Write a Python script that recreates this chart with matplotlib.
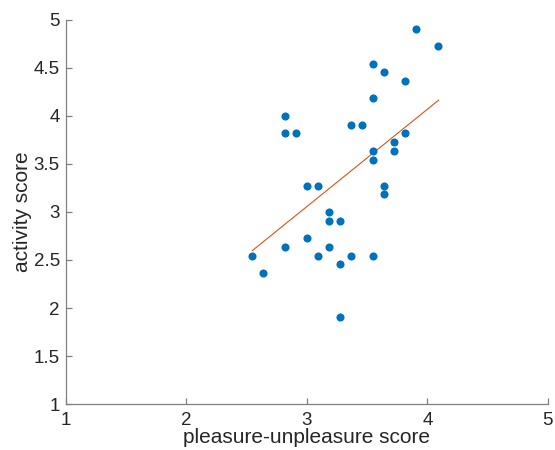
import matplotlib.pyplot as plt

plt.rcParams['font.family'] = ['Liberation Sans', 'DejaVu Sans']

# pleasure-unpleasure score (x) and activity score (y)
pleasure = [3.909, 4.091, 3.545, 3.636, 3.818, 3.545, 2.818, 2.818, 2.909,
            3.364, 3.455, 3.818, 3.727, 3.727, 3.545, 3.545,
            3.0, 3.091, 3.636, 3.636, 3.182, 3.182, 3.273, 3.0, 2.818,
            3.182, 2.545, 3.091, 3.364, 3.545, 3.273, 2.636, 3.273]
activity = [4.909, 4.727, 4.545, 4.455, 4.364, 4.182, 4.0, 3.818, 3.818,
            3.909, 3.909, 3.818, 3.727, 3.636, 3.636, 3.545,
            3.273, 3.273, 3.273, 3.182, 3.0, 2.909, 2.909, 2.727, 2.636,
            2.636, 2.545, 2.545, 2.545, 2.545, 2.455, 2.364, 1.909]

# trend line as drawn in the picture (ends)
fit_x = [2.546, 4.093]
fit_y = [2.597, 4.163]

fig = plt.figure(figsize=(5.55, 4.5), dpi=100)
ax = fig.add_axes([0.119, 0.102, 0.868, 0.854])

ax.scatter(pleasure, activity, s=34, color='#0072BD', zorder=3, linewidths=0)
ax.plot(fit_x, fit_y, color='#D95319', linewidth=0.8)

ax.set_xlim(1, 5)
ax.set_ylim(1, 5)
ax.set_xticks([1, 2, 3, 4, 5])
ax.set_yticks([1, 1.5, 2, 2.5, 3, 3.5, 4, 4.5, 5])
ax.set_yticklabels(['1', '1.5', '2', '2.5', '3', '3.5', '4', '4.5', '5'])

ax.spines['top'].set_visible(False)
ax.spines['right'].set_visible(False)
for s in ['left', 'bottom']:
    ax.spines[s].set_color('#808080')
    ax.spines[s].set_linewidth(0.9)
ax.tick_params(direction='in', length=4, width=0.9, color='#808080',
               labelcolor='#262626', labelsize=13.5)
ax.tick_params(axis='x', pad=5.5)
ax.tick_params(axis='y', pad=4.5)

ax.set_xlabel('pleasure-unpleasure score', fontsize=15, color='#262626', labelpad=-0.5)
ax.set_ylabel('activity score', fontsize=15, color='#262626', labelpad=1)

fig.savefig('out.png', dpi=100)
